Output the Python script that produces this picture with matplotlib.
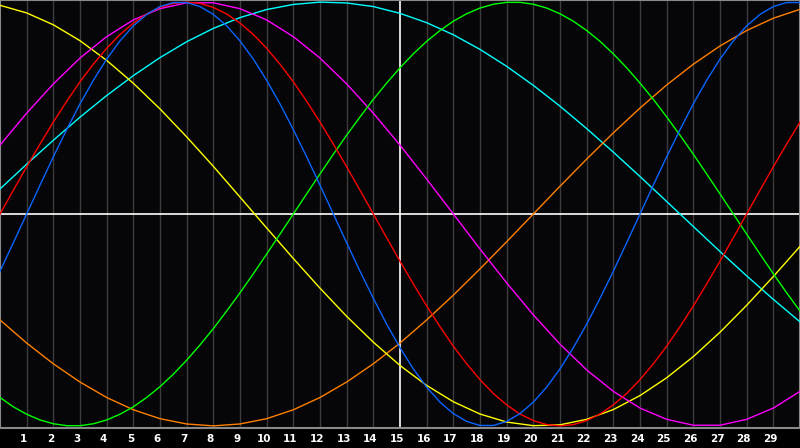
import matplotlib
matplotlib.use("Agg")
import matplotlib.pyplot as plt
import matplotlib.transforms as mtransforms

days = list(range(0, 31))
half_days = [i / 2 for i in range(61)]
tick_days = list(range(1, 30))
tick_labels = [str(d) for d in tick_days]

yellow = [0.985, 0.949, 0.893, 0.818, 0.725, 0.617, 0.496, 0.364, 0.225, 0.080,
          -0.066, -0.210, -0.350, -0.483, -0.605, -0.715, -0.809, -0.886, -0.944, -0.982,
          -0.999, -0.995, -0.969, -0.923, -0.857, -0.773, -0.673, -0.558, -0.431, -0.295,
          -0.153]
# half-day samples
red = [0.0, 0.112, 0.223, 0.330, 0.434, 0.532, 0.624, 0.707, 0.782, 0.847,
       0.901, 0.944, 0.975, 0.994, 1.0, 0.994, 0.975, 0.944, 0.901, 0.847,
       0.782, 0.707, 0.624, 0.532, 0.434, 0.330, 0.223, 0.112, 0.0, -0.112,
       -0.223, -0.330, -0.434, -0.532, -0.624, -0.707, -0.782, -0.847, -0.901, -0.944,
       -0.975, -0.994, -1.0, -0.994, -0.975, -0.944, -0.901, -0.847, -0.782, -0.707,
       -0.624, -0.532, -0.434, -0.330, -0.223, -0.112, 0.0, 0.112, 0.223, 0.330,
       0.434]
# half-day samples
blue = [-0.270, -0.136, 0.0, 0.136, 0.270, 0.398, 0.520, 0.631, 0.731, 0.817,
        0.888, 0.942, 0.979, 0.998, 0.998, 0.979, 0.942, 0.888, 0.817, 0.731,
        0.631, 0.520, 0.398, 0.270, 0.136, 0.0, -0.136, -0.270, -0.398, -0.520,
        -0.631, -0.731, -0.817, -0.888, -0.942, -0.979, -0.998, -0.998, -0.979, -0.942,
        -0.888, -0.817, -0.731, -0.631, -0.520, -0.398, -0.270, -0.136, 0.0, 0.136,
        0.270, 0.398, 0.520, 0.631, 0.731, 0.817, 0.888, 0.942, 0.979, 0.998,
        0.998]
# half-day samples
green = [-0.866, -0.910, -0.945, -0.972, -0.990, -0.999, -0.999, -0.990, -0.972, -0.945,
         -0.910, -0.866, -0.815, -0.756, -0.690, -0.618, -0.541, -0.458, -0.372, -0.282,
         -0.189, -0.095, 0.0, 0.095, 0.189, 0.282, 0.372, 0.458, 0.541, 0.618,
         0.690, 0.756, 0.815, 0.866, 0.910, 0.945, 0.972, 0.990, 0.999, 0.999,
         0.990, 0.972, 0.945, 0.910, 0.866, 0.815, 0.756, 0.690, 0.618, 0.541,
         0.458, 0.372, 0.282, 0.189, 0.095, 0.0, -0.095, -0.189, -0.282, -0.372,
         -0.458]
magenta = [0.325, 0.476, 0.614, 0.736, 0.837, 0.916, 0.969, 0.997, 0.997, 0.969,
           0.916, 0.837, 0.736, 0.614, 0.476, 0.325, 0.165, 0.0, -0.165, -0.325,
           -0.476, -0.614, -0.736, -0.837, -0.916, -0.969, -0.997, -0.997, -0.969, -0.916,
           -0.837]
orange = [-0.500, -0.609, -0.707, -0.793, -0.866, -0.924, -0.966, -0.991, -1.0, -0.991,
          -0.966, -0.924, -0.866, -0.793, -0.707, -0.609, -0.500, -0.383, -0.259, -0.131,
          0.0, 0.131, 0.259, 0.383, 0.500, 0.609, 0.707, 0.793, 0.866, 0.924,
          0.966]
cyan = [0.118, 0.235, 0.348, 0.457, 0.559, 0.653, 0.738, 0.813, 0.876, 0.927,
        0.965, 0.989, 1.0, 0.996, 0.979, 0.947, 0.903, 0.846, 0.777, 0.697,
        0.607, 0.509, 0.403, 0.292, 0.177, 0.059, -0.059, -0.177, -0.292, -0.403,
        -0.509]

series = [
    (days, cyan, "#00ffff"),
    (days, orange, "#ff8000"),
    (days, yellow, "#ffff00"),
    (days, magenta, "#ff00ff"),
    (half_days, green, "#00ff00"),
    (half_days, red, "#ff0000"),
    (half_days, blue, "#0a64ff"),
]

fig = plt.figure(figsize=(8, 4.48), dpi=100, facecolor="black")
ax = fig.add_axes([0, 20 / 448, 1, 428 / 448])
ax.set_facecolor("#060608")
ax.set_xlim(0, 30)
ax.set_ylim(-1.01, 1.01)

for d in tick_days:
    if d == 15:
        continue
    ax.axvline(d, color="#3c3c3c", lw=1, zorder=1)

for xs, vals, col in series:
    ax.plot(xs, vals, color=col, lw=1, zorder=3)

ax.axhline(0, color="white", lw=1.2, zorder=2)
ax.axvline(15, color="white", lw=1.2, zorder=2)

for s in ax.spines.values():
    s.set_color("#8a8a8a")
    s.set_linewidth(1.5)

ax.set_xticks([])
ax.set_yticks([])

offset = mtransforms.ScaledTranslation(-3 / 100, 0, fig.dpi_scale_trans)
trans = mtransforms.blended_transform_factory(ax.transData, fig.transFigure) + offset
for d, lab in zip(tick_days, tick_labels):
    fig.text(d, 9 / 448, lab, transform=trans, color="white", fontsize=7.5,
             fontweight="bold", ha="center", va="center", family="DejaVu Sans")

fig.savefig("out.png", dpi=100, facecolor="black")
